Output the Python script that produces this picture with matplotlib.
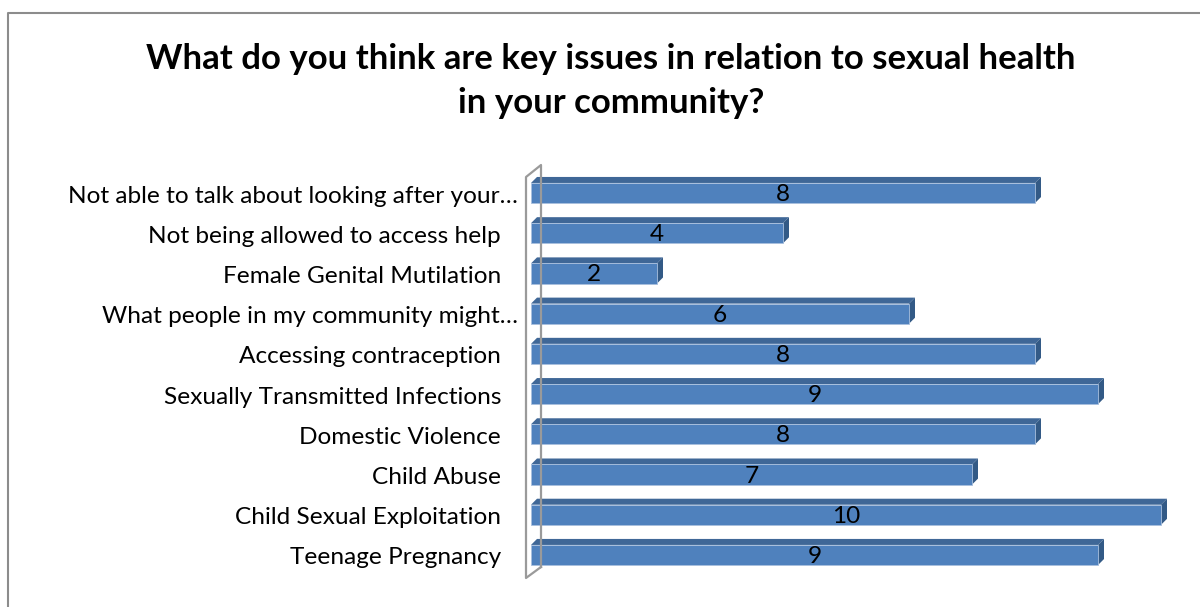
import matplotlib.pyplot as plt
from matplotlib.patches import Polygon
from matplotlib.lines import Line2D


# Survey answers, listed from the bottom bar up
#_____________
categories = [
    "Teenage Pregnancy",
    "Child Sexual Exploitation",
    "Child Abuse",
    "Domestic Violence",
    "Sexually Transmitted Infections",
    "Accessing contraception",
    "What people in my community might\u2026",
    "Female Genital Mutilation",
    "Not being allowed to access help",
    "Not able to talk about looking after your\u2026",
]
counts = [9, 10, 7, 8, 9, 8, 6, 2, 4, 8]
title = "What do you think are key issues in relation to sexual health\nin your community?"
#_____________

W, H = 1200, 607
front = "#4f81bd"
top = "#3f6797"
side = "#335a86"
fs = 17.6

plt.rcParams['font.family'] = ['Lato', 'DejaVu Sans']

fig = plt.figure(figsize=(W / 100, H / 100), dpi=100)

# plot area in pixels: x 0..10 -> 531..1161, rows centred from 555 up to 193
x0, x1 = 531, 1161
y_bot, y_top = 555 + 20.1, 193 - 20.1
ax = fig.add_axes([x0 / W, (H - y_bot) / H, (x1 - x0) / W, (y_bot - y_top) / H])
ax.set_xlim(0, 10)
ax.set_ylim(-0.5, len(categories) - 0.5)
ax.axis("off")

# 3d depth of the bars, in pixels turned into data units
px_x = (x1 - x0) / 10
px_y = (y_bot - y_top) / len(categories)
dx, dy = 6 / px_x, 6 / px_y
h = 0.25

ax.barh(range(len(counts)), counts, height=2 * h, color=front,
        edgecolor="#a9c0de", linewidth=0.6, zorder=3, clip_on=False)
for i, v in enumerate(counts):
    ax.add_patch(Polygon([(0, i + h), (v, i + h), (v + dx, i + h + dy), (dx, i + h + dy)],
                         closed=True, facecolor=top, edgecolor="none", zorder=2,
                         clip_on=False))
    ax.add_patch(Polygon([(v, i - h), (v + dx, i - h + dy), (v + dx, i + h + dy), (v, i + h)],
                         closed=True, facecolor=side, edgecolor="none", zorder=2,
                         clip_on=False))
    ax.annotate(str(v), xy=(v / 2, i), xytext=(0, -1.5 * 0.72),
                textcoords="offset points", ha="center", va="center",
                fontsize=fs, color="black", zorder=4)
    pad = 13 if categories[i].endswith("\u2026") else 30
    ax.annotate(categories[i], xy=(0, i), xycoords=("axes fraction", "data"),
                xytext=(-pad * 0.72, -3 * 0.72), textcoords="offset points",
                ha="right", va="center", fontsize=fs, color="black",
                annotation_clip=False)

# side wall outline
wall = [(541, 567), (541, 165), (526, 177), (526, 578), (541, 567)]
fig.add_artist(Line2D([p[0] / W for p in wall], [1 - p[1] / H for p in wall],
                      color="#9a9a9a", linewidth=1.6))

# chart border
fig.add_artist(Line2D([8 / W, 8 / W, 1.01], [-0.01, 1 - 13 / H, 1 - 13 / H],
                      color="#8c8c8c", linewidth=1.5))

fig.text(611 / W, 1 - 81 / H, title, ha="center", va="center", fontsize=25,
         fontweight="bold", linespacing=1.45)

fig.savefig("out.png", dpi=100)
